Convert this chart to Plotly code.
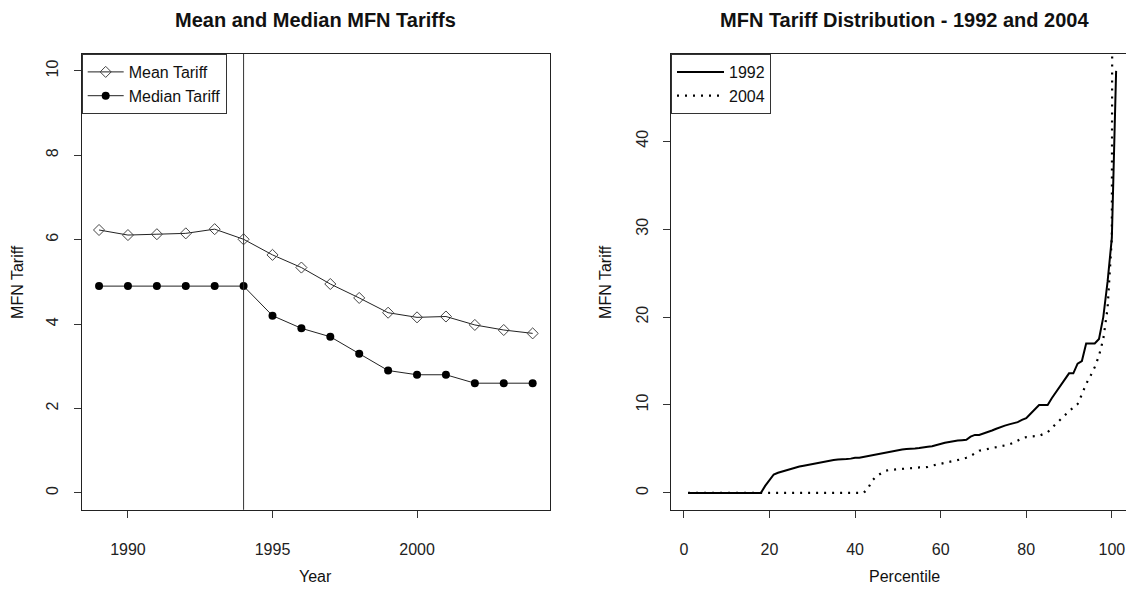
import plotly.graph_objects as go

# The page body has an 8px margin on every side, so the figure is sized and
# offset to fit inside it within the 1134x594 window.
OFF = 8
W, H = 1134 - 2 * OFF, 594 - 2 * OFF

# ---------------- data ----------------
years = list(range(1989, 2005))
mean_tariff = [6.23, 6.11, 6.13, 6.15, 6.25, 6.01, 5.64, 5.34, 4.95, 4.62,
               4.27, 4.16, 4.18, 3.98, 3.86, 3.78]
median_tariff = [4.9, 4.9, 4.9, 4.9, 4.9, 4.9, 4.2, 3.9, 3.7, 3.3,
                 2.9, 2.8, 2.8, 2.6, 2.6, 2.6]
reform_year = 1994

percentile = list(range(1, 102))
tariff_1992 = [0.0] * 18 + [
    0.8, 1.5, 2.1, 2.3, 2.45, 2.55, 2.7, 2.85, 3.0, 3.1,          # 19-28
    3.2, 3.3, 3.4, 3.5, 3.6, 3.7, 3.75, 3.8, 3.8, 3.85,           # 29-38
    3.9, 4.0, 4.0, 4.1, 4.2, 4.25, 4.35, 4.5, 4.6, 4.7,           # 39-48
    4.8, 4.9, 4.95, 5.0, 5.0, 5.05, 5.1, 5.2, 5.25, 5.3,          # 49-58
    5.45, 5.55, 5.7, 5.8, 5.9, 5.95, 6.0, 6.05, 6.4, 6.6,         # 59-68
    6.6, 6.75, 6.9, 7.1, 7.3, 7.5, 7.65, 7.8, 7.95, 8.05,         # 69-78
    8.3, 8.5, 9.0, 9.5, 10.0, 10.0, 10.0, 10.8, 11.5, 12.1,       # 79-88
    12.8, 13.6, 13.6, 14.7, 15.0, 17.0, 17.0, 17.0, 17.5, 20.0,   # 89-98
    24.0, 29.0, 48.0]                                             # 99-101
tariff_2004 = [0.0] * 42 + [
    0.5, 1.4, 1.9, 2.2, 2.5, 2.6, 2.65, 2.7,                      # 43-50
    2.7, 2.75, 2.8, 2.85, 2.9, 2.9, 2.95, 3.1, 3.2, 3.3,          # 51-60
    3.4, 3.5, 3.6, 3.7, 3.85, 4.0, 4.2, 4.5, 4.8, 4.9,            # 61-70
    5.0, 5.15, 5.25, 5.35, 5.45, 5.5, 5.7, 5.95, 6.2, 6.35,       # 71-80
    6.4, 6.45, 6.5, 6.7, 6.9, 7.4, 7.9, 8.4, 8.8, 9.3,            # 81-90
    9.7, 10.1, 11.2, 12.4, 13.3, 14.3, 15.6, 17.5, 21.0, 29.0,    # 91-100
    300.0]                                                        # 101

left_xticks = [1990, 1995, 2000]
left_yticks = [0, 2, 4, 6, 8, 10]
right_xticks = [0, 20, 40, 60, 80, 100]
right_yticks = [0, 10, 20, 30, 40]

# ---------------- layout geometry (window pixels) ----------------
FONT = "Liberation Sans, Arial, sans-serif"
L1, R1 = 81.7, 550.0
L2, R2 = 671.0, 1134.0 - OFF
TOP, BOT = 54.0, 509.8
PX_PER_PCT = 4.28

def px(x):
    return (x - OFF) / W

def py(y):
    return 1 - (y - OFF) / H

fig = go.Figure()

fig.add_trace(go.Scatter(
    x=years, y=mean_tariff, name="Mean Tariff", mode="lines+markers",
    line=dict(color="#222222", width=1),
    marker=dict(symbol="diamond-open", size=8.5, color="#444444",
                line=dict(width=1, color="#444444")),
    xaxis="x", yaxis="y", legend="legend"))
fig.add_trace(go.Scatter(
    x=years, y=median_tariff, name="Median Tariff", mode="lines+markers",
    line=dict(color="#222222", width=1),
    marker=dict(symbol="circle", size=8, color="black"),
    xaxis="x", yaxis="y", legend="legend"))

fig.add_trace(go.Scatter(
    x=percentile, y=tariff_1992, name="1992", mode="lines",
    line=dict(color="black", width=2),
    xaxis="x2", yaxis="y2", legend="legend2"))
fig.add_trace(go.Scatter(
    x=percentile, y=tariff_2004, name="2004", mode="lines",
    line=dict(color="black", width=2.2, dash="2px,6px"),
    xaxis="x2", yaxis="y2", legend="legend2"))

axis_common = dict(showgrid=False, zeroline=False, showline=True,
                   linecolor="#222222", linewidth=1, ticks="outside",
                   ticklen=7, tickwidth=1, tickcolor="#333333",
                   ticklabeloverflow="allow",
                   tickfont=dict(family=FONT, size=16, color="#222222"))

legend_common = dict(bgcolor="white", bordercolor="#333333", borderwidth=1,
                     font=dict(family=FONT, size=16, color="#111111"),
                     xanchor="left", yanchor="top", tracegroupgap=0)

fig.update_layout(
    width=W, height=H,
    margin=dict(l=0, r=0, t=0, b=0),
    paper_bgcolor="white", plot_bgcolor="white",
    showlegend=True,
    xaxis=dict(axis_common, domain=[px(L1), px(R1)], range=[1988.4, 2004.6],
               tickvals=left_xticks, mirror=True, anchor="y",
               ticklabelstandoff=18),
    yaxis=dict(axis_common, domain=[py(BOT), py(TOP)], range=[-0.4, 10.4],
               tickvals=left_yticks, mirror=True, anchor="x",
               tickangle=-90, ticklabelstandoff=9),
    xaxis2=dict(axis_common, domain=[px(L2), px(R2)],
                range=[-3, -3 + (R2 - L2) / PX_PER_PCT],
                tickvals=right_xticks, mirror=True, anchor="y2",
                ticklabelstandoff=18),
    yaxis2=dict(axis_common, domain=[py(BOT), py(TOP)], range=[-1.92, 49.92],
                tickvals=right_yticks, mirror=False, anchor="x2",
                tickangle=-90, ticklabelstandoff=9),
    legend=dict(legend_common, x=px(L1), y=py(TOP), itemwidth=36),
    legend2=dict(legend_common, x=px(L2), y=py(TOP), itemwidth=47),
)

# vertical reference line at the reform year
fig.add_shape(type="line", xref="x", yref="y domain", x0=reform_year, x1=reform_year,
              y0=0, y1=1, line=dict(color="#333333", width=1))

# titles and axis labels
def ann(text, x, y, size=16, bold=False, angle=0, yanchor="middle"):
    fig.add_annotation(text=text, x=px(x), y=py(y), xref="paper", yref="paper",
                       showarrow=False, textangle=angle, borderpad=0,
                       xanchor="center", yanchor=yanchor,
                       font=dict(family=FONT, size=size, color="#111111",
                                 weight="bold" if bold else "normal"))

ann("Mean and Median MFN Tariffs", (L1 + R1) / 2, OFF, size=20, bold=True, yanchor="top")
ann("MFN Tariff Distribution - 1992 and 2004", 904, OFF, size=20, bold=True, yanchor="top")
ann("Year", (L1 + R1) / 2, 586, yanchor="bottom")
ann("Percentile", 904, 586, yanchor="bottom")
ann("MFN Tariff", 18, (TOP + BOT) / 2, angle=-90)
ann("MFN Tariff", 606, (TOP + BOT) / 2, angle=-90)

fig.write_html("out.html")
